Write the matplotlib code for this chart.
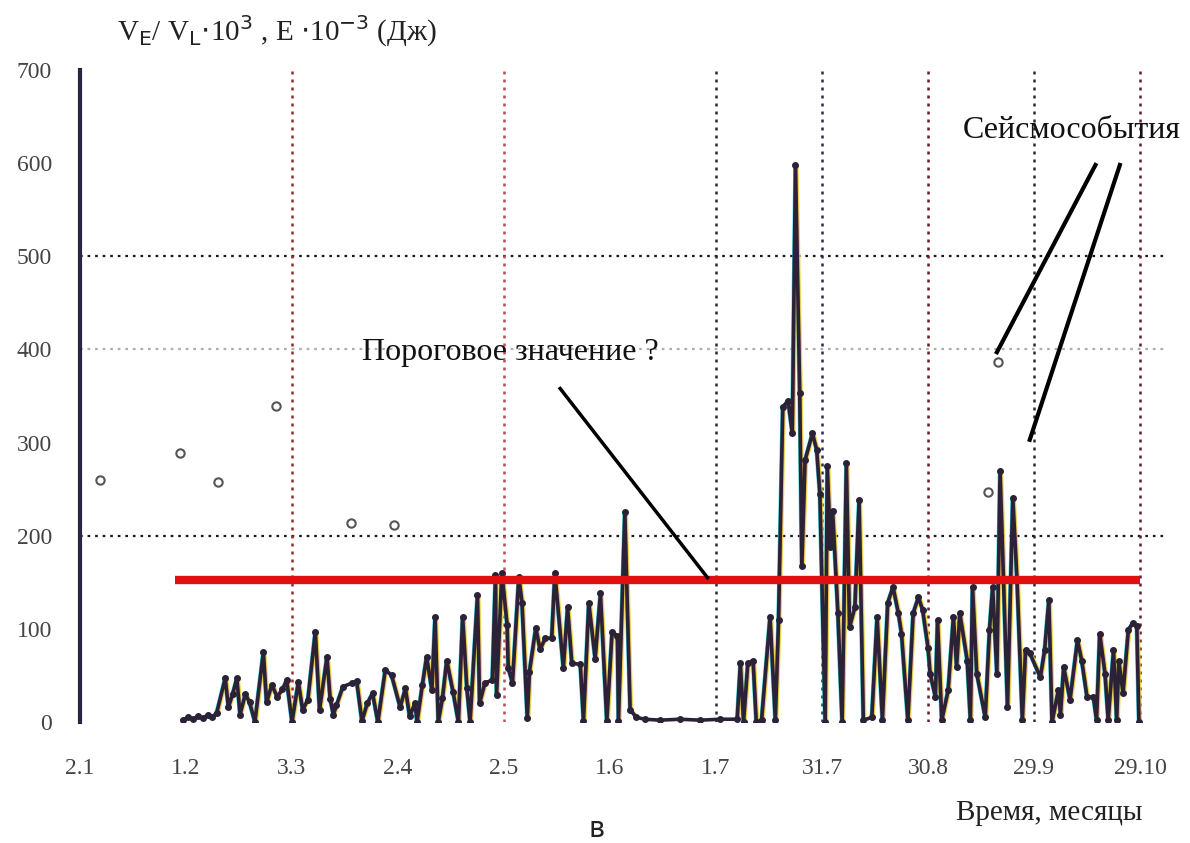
#!/usr/bin/env python3
import matplotlib
matplotlib.use("Agg")
import matplotlib.pyplot as plt
import numpy as np

# ─── Data (x = position on the month axis, 0 = "2.1", 1 = "1.2", ...) ──────────
MONTH_LABELS = ["2.1", "1.2", "3.3", "2.4", "2.5", "1.6", "1.7",
                "31.7", "30.8", "29.9", "29.10"]
Y_TICKS = [0, 100, 200, 300, 400, 500, 600, 700]

T = [0.97, 1.02, 1.07, 1.11, 1.16, 1.21, 1.25, 1.29, 1.37, 1.40, 1.44, 1.48,
     1.51, 1.56, 1.60, 1.65, 1.73, 1.76, 1.81, 1.86, 1.91, 1.95, 2.00, 2.06,
     2.10, 2.15, 2.22, 2.26, 2.33, 2.36, 2.39, 2.42, 2.48, 2.57, 2.61, 2.66,
     2.71, 2.76, 2.81, 2.88, 2.94, 3.02, 3.07, 3.11, 3.16, 3.18, 3.23, 3.27,
     3.32, 3.35, 3.38, 3.42, 3.46, 3.52, 3.57, 3.61, 3.65, 3.68, 3.75, 3.77,
     3.82, 3.89, 3.92, 3.93, 3.98, 4.03, 4.04, 4.08, 4.14, 4.17, 4.22, 4.24,
     4.30, 4.34, 4.39, 4.45, 4.48, 4.56, 4.60, 4.64, 4.72, 4.75, 4.80, 4.86,
     4.91, 4.97, 5.02, 5.07, 5.08, 5.14, 5.19, 5.25, 5.33, 5.47, 5.66, 5.85,
     6.04, 6.20, 6.23, 6.26, 6.30, 6.35, 6.38, 6.43, 6.51, 6.56, 6.59, 6.63,
     6.68, 6.72, 6.75, 6.79, 6.81, 6.84, 6.91, 6.95, 6.98, 7.03, 7.05, 7.08,
     7.10, 7.15, 7.19, 7.23, 7.26, 7.31, 7.35, 7.39, 7.47, 7.52, 7.57, 7.62,
     7.67, 7.72, 7.75, 7.81, 7.86, 7.91, 7.95, 8.00, 8.02, 8.07, 8.09, 8.13,
     8.19, 8.24, 8.27, 8.30, 8.37, 8.40, 8.42, 8.46, 8.54, 8.58, 8.61, 8.65,
     8.68, 8.75, 8.80, 8.84, 8.89, 8.92, 8.96, 9.06, 9.10, 9.14, 9.17, 9.23,
     9.25, 9.28, 9.34, 9.41, 9.45, 9.50, 9.56, 9.59, 9.62, 9.67, 9.70, 9.75,
     9.78, 9.80, 9.84, 9.89, 9.93, 9.97, 9.99]
V = [2, 5, 3, 6, 4, 8, 5, 10, 47, 16, 30, 47,
     8, 30, 21, 0, 75, 21, 40, 27, 35, 45, 0, 43,
     13, 24, 97, 13, 70, 25, 8, 18, 38, 42, 44, 1,
     20, 31, 0, 56, 50, 16, 36, 6, 20, 0, 40, 70,
     34, 113, 0, 26, 66, 32, 0, 113, 36, 0, 136, 20,
     42, 45, 158, 29, 160, 104, 58, 42, 156, 128, 4, 54,
     101, 78, 90, 90, 160, 58, 123, 63, 62, 1, 128, 68,
     138, 1, 97, 92, 1, 225, 13, 5, 3, 2, 3, 2,
     3, 3, 63, 0, 63, 66, 0, 2, 113, 2, 109, 338,
     345, 310, 598, 353, 167, 281, 310, 292, 245, 0, 275, 188,
     227, 117, 0, 278, 102, 123, 238, 2, 5, 113, 2, 128,
     145, 117, 95, 2, 117, 134, 120, 80, 52, 27, 109, 2,
     34, 113, 59, 117, 66, 2, 145, 52, 5, 99, 145, 52,
     270, 16, 241, 152, 2, 77, 74, 48, 77, 131, 0, 34,
     8, 59, 24, 88, 66, 27, 27, 2, 95, 52, 2, 77,
     2, 66, 31, 99, 106, 103, 0]

# isolated open-circle points
CIRCLE_T = [0.19, 0.94, 1.30, 1.85, 2.56, 2.96, 8.57, 8.66]
CIRCLE_V = [260, 289, 258, 339, 214, 212, 247, 386]

THRESHOLD = 152
THRESHOLD_SPAN = [0.90, 10.0]

# ─── Style ─────────────────────────────────────────────────────────────────────
plt.rcParams['font.family'] = ['Liberation Serif', 'DejaVu Serif']
LINE_DARK = '#2b2238'
GRID_RED = '#9a2a2a'
GRID_DARK = '#2a2a3a'

fig = plt.figure(figsize=(11.9, 8.43), dpi=100)
ax = fig.add_axes([0.0672, 0.1435, 0.9118, 0.7735])
ax.set_xlim(0, 10.236)
ax.set_ylim(0, 700)

# grid lines
for yv, col, a in [(200, 'black', 0.9), (400, '#777777', 0.6), (500, 'black', 0.9)]:
    ax.axhline(yv, color=col, lw=1.6, ls=(0, (1.2, 2.2)), alpha=a, zorder=1)
vgrid = {2: GRID_RED, 4: '#c05050', 6: GRID_DARK, 7: '#2a2a55',
         8: '#6a1a2a', 9: GRID_DARK, 10: '#6a1a2a'}
for xv, col in vgrid.items():
    ax.axvline(xv, color=col, lw=1.8, ls=(0, (1.2, 2.0)), zorder=1)

# threshold line
ax.plot(THRESHOLD_SPAN, [THRESHOLD, THRESHOLD], color='#e01010', lw=6,
        solid_capstyle='butt', zorder=4)

# main series with scan-like colour fringes
t = np.array(T)
v = np.array(V)
for dx, col in [(-0.014, '#00c8d8'), (0.014, '#c020c0'), (0.022, '#e8d020')]:
    ax.plot(t + dx, v, color=col, lw=1.2, alpha=0.75, zorder=2)
ax.plot(t, v, color=LINE_DARK, lw=2.6, marker='o', ms=4, zorder=3)

ax.plot(CIRCLE_T, CIRCLE_V, ls='none', marker='o', ms=6, mfc='white',
        mec='#555555', mew=1.5, zorder=3)

# annotations
ax.text(4.06, 397, "Пороговое значение ?", fontsize=23, ha='center',
        va='center', color='#111111')
ax.plot([4.53, 5.92], [358, 155], color='black', lw=2.5, zorder=5)
ax.text(9.36, 635, "Сейсмособытия", fontsize=23, ha='center',
        va='center', color='#111111')
ax.plot([8.65, 9.58], [397, 598], color='black', lw=3, zorder=5)
ax.plot([8.96, 9.81], [303, 598], color='black', lw=3, zorder=5)

# axes
for s in ['top', 'right', 'bottom']:
    ax.spines[s].set_visible(False)
ax.spines['left'].set_color('#2a2440')
ax.spines['left'].set_linewidth(3)
ax.set_xticks(range(len(MONTH_LABELS)))
ax.set_xticklabels(MONTH_LABELS)
ax.set_yticks(Y_TICKS)
ax.set_yticklabels([str(y) for y in Y_TICKS])
ax.tick_params(axis='both', length=0, labelsize=17, colors='#444444')
ax.tick_params(axis='x', pad=26)
ax.tick_params(axis='y', pad=20)

fig.text(0.233, 0.963, r"V$_{\rm E}$/ V$_{\rm L}$$\cdot$10$^{3}$ , E $\cdot$10$^{-3}$ (Дж)",
         fontsize=21, ha='center', va='center', color='#222222')
fig.text(0.882, 0.036, "Время, месяцы", fontsize=21, ha='center', va='center',
         color='#222222')
fig.text(0.501, 0.017, "в", fontsize=20, ha='center', va='center',
         family='DejaVu Sans', color='#222222')

fig.savefig("out.png", dpi=100)
